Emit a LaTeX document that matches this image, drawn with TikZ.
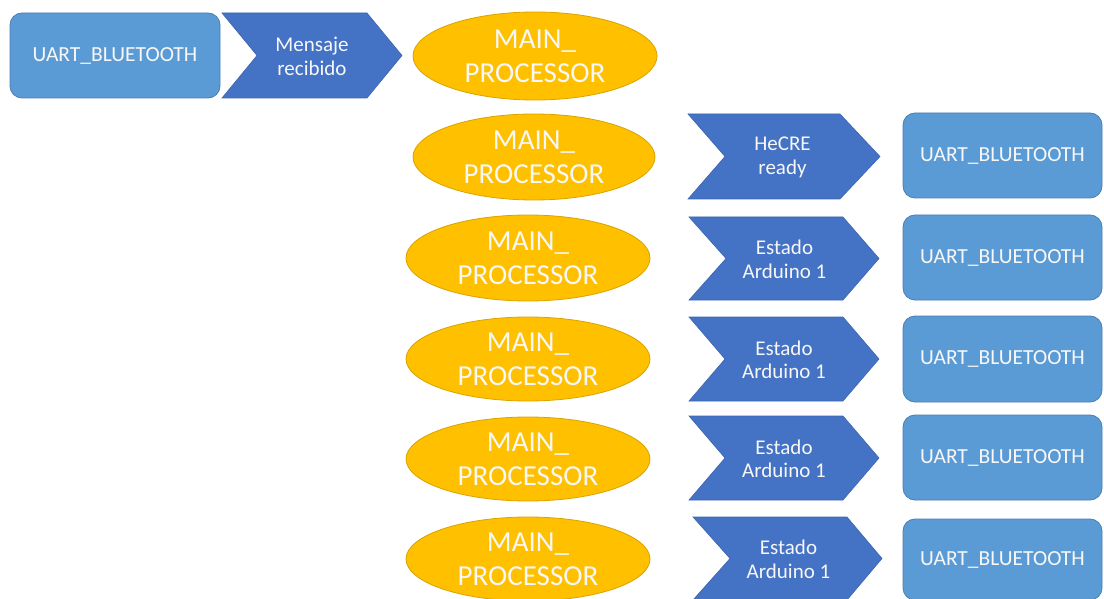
\documentclass[tikz,border=0pt]{standalone}
\usepackage{fontspec}
\setmainfont{Carlito}
\usetikzlibrary{shapes.geometric}
\definecolor{uartfill}{HTML}{5B9BD5}
\definecolor{uartdraw}{HTML}{4A7EB3}
\definecolor{chevfill}{HTML}{4472C4}
\definecolor{chevdraw}{HTML}{3D66B0}
\definecolor{procfill}{HTML}{FFC000}
\definecolor{procdraw}{HTML}{D9A300}
\definecolor{txt}{HTML}{F7F7F7}
\tikzset{
  uartbox/.style={draw=uartdraw, fill=uartfill, line width=0.8pt, rounded corners=12pt,
    inner sep=0pt, text=txt, font=\fontsize{21.5}{24}\selectfont},
  chevshape/.style={draw=chevdraw, fill=chevfill, line width=0.6pt},
  chevtext/.style={text=txt, align=center, font=\fontsize{21}{23.5}\selectfont},
  procshape/.style={draw=procdraw, fill=procfill, line width=0.8pt},
  proctext/.style={text=txt, align=center, font=\fontsize{29}{34}\selectfont}
}
% chevron: name, left, notch, shoulder, tip, top, bottom, text
\newcommand\mychev[8]{%
  \path[chevshape] (#2,#6) -- (#4,#6) -- (#5,{(#6+#7)/2}) -- (#4,#7) -- (#2,#7) -- (#3,{(#6+#7)/2}) -- cycle;
  \node[chevtext] (#1) at ({(#3+#4)/2},{(#6+#7)/2+1}) {#8};}
% process ellipse: name, cx, cy, rx, ry
\newcommand\myproc[5]{%
  \path[procshape] (#2,#3) ellipse ({#4} and {#5});
  \node[proctext] (#1) at (#2,#3) {MAIN\_\\PROCESSOR};}
\begin{document}
\begin{tikzpicture}[x=1pt,y=-1pt]
\useasboundingbox (0,0) rectangle (1104,599);
% row 0
\node[uartbox, minimum width=210pt, minimum height=85pt] (u0) at (115,55.5) {UART\_BLUETOOTH};
\mychev{c0}{222}{257}{367}{402}{13}{98}{Mensaje\\recibido}
\myproc{p0}{535}{56}{122}{44}
% row 1
\myproc{p1}{534}{157}{121}{43}
\mychev{c1}{688}{725}{840}{880}{114}{199}{HeCRE\\ready}
\node[uartbox, minimum width=199pt, minimum height=85pt] (u1) at (1002.5,155.5) {UART\_BLUETOOTH};
% row 2
\myproc{p2}{528}{258}{122}{43}
\mychev{c2}{689}{726}{843}{879}{217}{300}{Estado\\Arduino 1}
\node[uartbox, minimum width=199pt, minimum height=85pt] (u2) at (1002.5,257.5) {UART\_BLUETOOTH};
% row 3
\myproc{p3}{528}{359}{122}{42}
\mychev{c3}{689}{725}{843}{879}{317}{401}{Estado\\Arduino 1}
\node[uartbox, minimum width=199pt, minimum height=86pt] (u3) at (1002.5,359) {UART\_BLUETOOTH};
% row 4
\myproc{p4}{528}{459}{122}{42}
\mychev{c4}{689}{725}{843}{879}{416}{500}{Estado\\Arduino 1}
\node[uartbox, minimum width=199pt, minimum height=85pt] (u4) at (1002.5,457.5) {UART\_BLUETOOTH};
% row 5
\myproc{p5}{528}{559}{122}{42}
\mychev{c5}{693}{730}{847}{882}{517}{600}{Estado\\Arduino 1}
\node[uartbox, minimum width=199pt, minimum height=81pt] (u5) at (1002.5,559.5) {UART\_BLUETOOTH};
\end{tikzpicture}
\end{document}
